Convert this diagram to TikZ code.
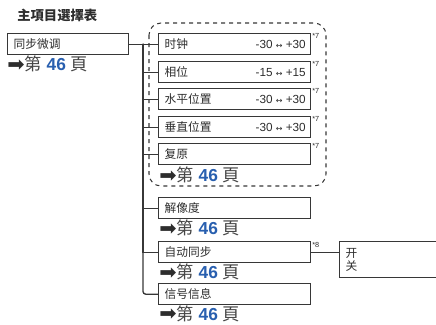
\documentclass[tikz,border=0pt]{standalone}
\usepackage{fontspec}
\setmainfont{Liberation Sans}
\newfontfamily\cjk{Noto Sans CJK SC}
\newfontfamily\sym{DejaVu Sans}
\usetikzlibrary{positioning}
\definecolor{linegray}{RGB}{55,55,55}
\definecolor{textgray}{RGB}{45,45,45}
\definecolor{pagegray}{RGB}{70,70,70}
\definecolor{pageblue}{RGB}{40,95,175}
\newcommand{\gotopage}{{\sym\fontsize{15.5}{15}\selectfont\raisebox{-0.5pt}{➡}}{\color{pagegray}\cjk 第} {\bfseries\color{pageblue}46} {\color{pagegray}\cjk 頁}}
\newcommand{\lr}{{\sym\fontsize{6}{7}\selectfont ↔}}

\begin{document}
\begin{tikzpicture}[x=0.75pt, y=-0.75pt,
    box/.style={draw=linegray, line width=1pt, minimum height=15.75pt, text width=105pt, inner xsep=4.5pt, align=left, text=textgray, font=\cjk\fontsize{8.8}{10}\selectfont},
    rangetext/.style={inner sep=0pt, text=textgray, font=\fontsize{8.8}{10}\selectfont},
    note/.style={inner sep=0.5pt, text=textgray, font=\fontsize{5.5}{6}\selectfont},
    goto/.style={inner sep=0pt, text=textgray, font=\fontsize{13}{15}\selectfont},
    link/.style={draw=linegray, line width=1pt}
]
    \useasboundingbox (0,0) rectangle (436,325);

    \node[anchor=west, inner sep=0pt, font=\cjk\bfseries\fontsize{10}{12}\selectfont, text=textgray] (title) at (17,15) {主項目選擇表};

    \node[box, text width=81.75pt, anchor=north west] (menu) at (7,33) {同步微调};
    \node[goto, anchor=west] (menugo) at (7,64) {\gotopage};

    \draw[dashed, draw=linegray, line width=0.8pt, rounded corners=9pt] (149,23) rectangle (326,186);

    \node[box, anchor=north west] (clock) at (158,33)  {时钟};
    \node[box, anchor=north west] (phase) at (158,61)  {相位};
    \node[box, anchor=north west] (hpos)  at (158,88)  {水平位置};
    \node[box, anchor=north west] (vpos)  at (158,116) {垂直位置};
    \node[box, anchor=north west] (reset) at (158,143) {复原};
    \node[goto, anchor=west] (resetgo) at (159,175) {\gotopage};

    \node[box, anchor=north west] (res)  at (158,197) {解像度};
    \node[goto, anchor=west] (resgo) at (159,228) {\gotopage};
    \node[box, anchor=north west] (auto) at (158,241) {自动同步};
    \node[goto, anchor=west] (autogo) at (159,272) {\gotopage};
    \node[box, anchor=north west] (sig)  at (158,283) {信号信息};
    \node[goto, anchor=west] (siggo) at (159,313.5) {\gotopage};

    \node[rangetext, left=4pt of clock.east] (clockr) {-30 \lr{} +30};
    \node[rangetext, left=4pt of phase.east] (phaser) {-15 \lr{} +15};
    \node[rangetext, left=4pt of hpos.east]  (hposr)  {-30 \lr{} +30};
    \node[rangetext, left=4pt of vpos.east]  (vposr)  {-30 \lr{} +30};

    \foreach \n in {clock,phase,hpos,vpos,reset}
        \node[note, anchor=north west] at (\n.north east) {*7};
    \node[note, anchor=north west] at (auto.north east) {*8};

    \node[box, text width=80pt, minimum height=27pt, anchor=north west] (onoff) at (339,241) {开\\关};

    \coordinate (trunk) at (143,43.5);
    \draw[link] (menu.east) -- (clock.west);
    \foreach \n in {phase,hpos,vpos,reset,res,auto}
        \draw[link] (trunk) |- (\n.west);
    \draw[link, rounded corners=2pt] (trunk) |- (sig.west);
    \draw[link] (auto.east) -- (auto.east -| onoff.west);
\end{tikzpicture}
\end{document}
